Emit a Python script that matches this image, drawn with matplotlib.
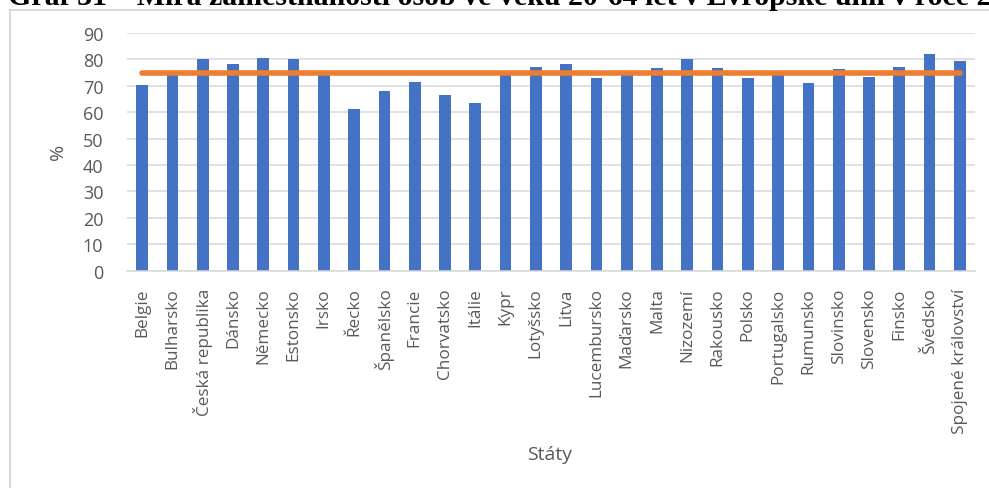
import matplotlib
matplotlib.use('Agg')
import matplotlib.pyplot as plt
from matplotlib.lines import Line2D

plt.rcParams['font.family'] = ['Open Sans', 'DejaVu Sans']

# Míra zaměstnanosti 20-64 let podle států EU
staty = ['Belgie', 'Bulharsko', 'Česká republika', 'Dánsko', 'Německo', 'Estonsko',
         'Irsko', 'Řecko', 'Španělsko', 'Francie', 'Chorvatsko', 'Itálie', 'Kypr',
         'Lotyšsko', 'Litva', 'Lucembursko', 'Maďarsko', 'Malta', 'Nizozemí',
         'Rakousko', 'Polsko', 'Portugalsko', 'Rumunsko', 'Slovinsko', 'Slovensko',
         'Finsko', 'Švédsko', 'Spojené království']
mira = [70.5, 75.0, 80.3, 78.3, 80.6, 80.2, 75.1, 61.2, 68.0, 71.6, 66.7, 63.5, 75.3,
        77.3, 78.2, 72.8, 75.3, 76.8, 80.1, 76.8, 73.0, 75.5, 70.9, 76.4, 73.4,
        77.2, 82.1, 79.3]
cil = [75] * len(staty)  # cíl strategie Evropa 2020

seda = '#595959'
mrizka = '#d9d9d9'

fig = plt.figure(figsize=(9.89, 4.89), dpi=100)
ax = fig.add_axes([127 / 989, 1 - 271.7 / 489, (975 - 127) / 989, (271.7 - 34) / 489])

x = list(range(len(staty)))
ax.bar(x, mira, width=0.39, color='#4472C4', zorder=2)
ax.plot(x, cil, color='#ED7D31', linewidth=4, solid_capstyle='round', zorder=3)

ax.set_xlim(-0.5, len(staty) - 0.5)
ax.set_ylim(0, 90)
ax.set_yticks(range(0, 91, 10))
ax.set_xticks(x)
ax.set_xticklabels(staty, rotation=90, fontsize=12.3, color=seda)
ax.tick_params(axis='y', labelsize=13, labelcolor=seda, length=0, pad=17)
ax.tick_params(axis='x', length=0, pad=12)
ax.grid(axis='y', color=mrizka, linewidth=1.1, zorder=0)
for s in ['top', 'right', 'left']:
    ax.spines[s].set_visible(False)
ax.spines['bottom'].set_color(mrizka)
ax.spines['bottom'].set_linewidth(1.1)

fig.text(58 / 989, 1 - 152 / 489, '%', fontsize=14, color=seda, rotation=90,
         ha='center', va='center')
fig.text(550 / 989, 1 - 455 / 489, 'Státy', fontsize=14, color=seda, ha='center', va='center')

# rámeček grafu
fig.add_artist(Line2D([9.5 / 989, 9.5 / 989], [0, 1 - 10.5 / 489], color=mrizka, linewidth=1.5))
fig.add_artist(Line2D([9.5 / 989, 1], [1 - 10.5 / 489, 1 - 10.5 / 489], color=mrizka, linewidth=1.5))

fig.text(8 / 989, 1 - 5 / 489,
         'Graf 31 – Míra zaměstnanosti osob ve věku 20-64 let v Evropské unii v roce 2019',
         family='Liberation Serif', fontweight='bold', fontsize=21.5, ha='left', va='baseline')

fig.savefig('out.png', dpi=100)
